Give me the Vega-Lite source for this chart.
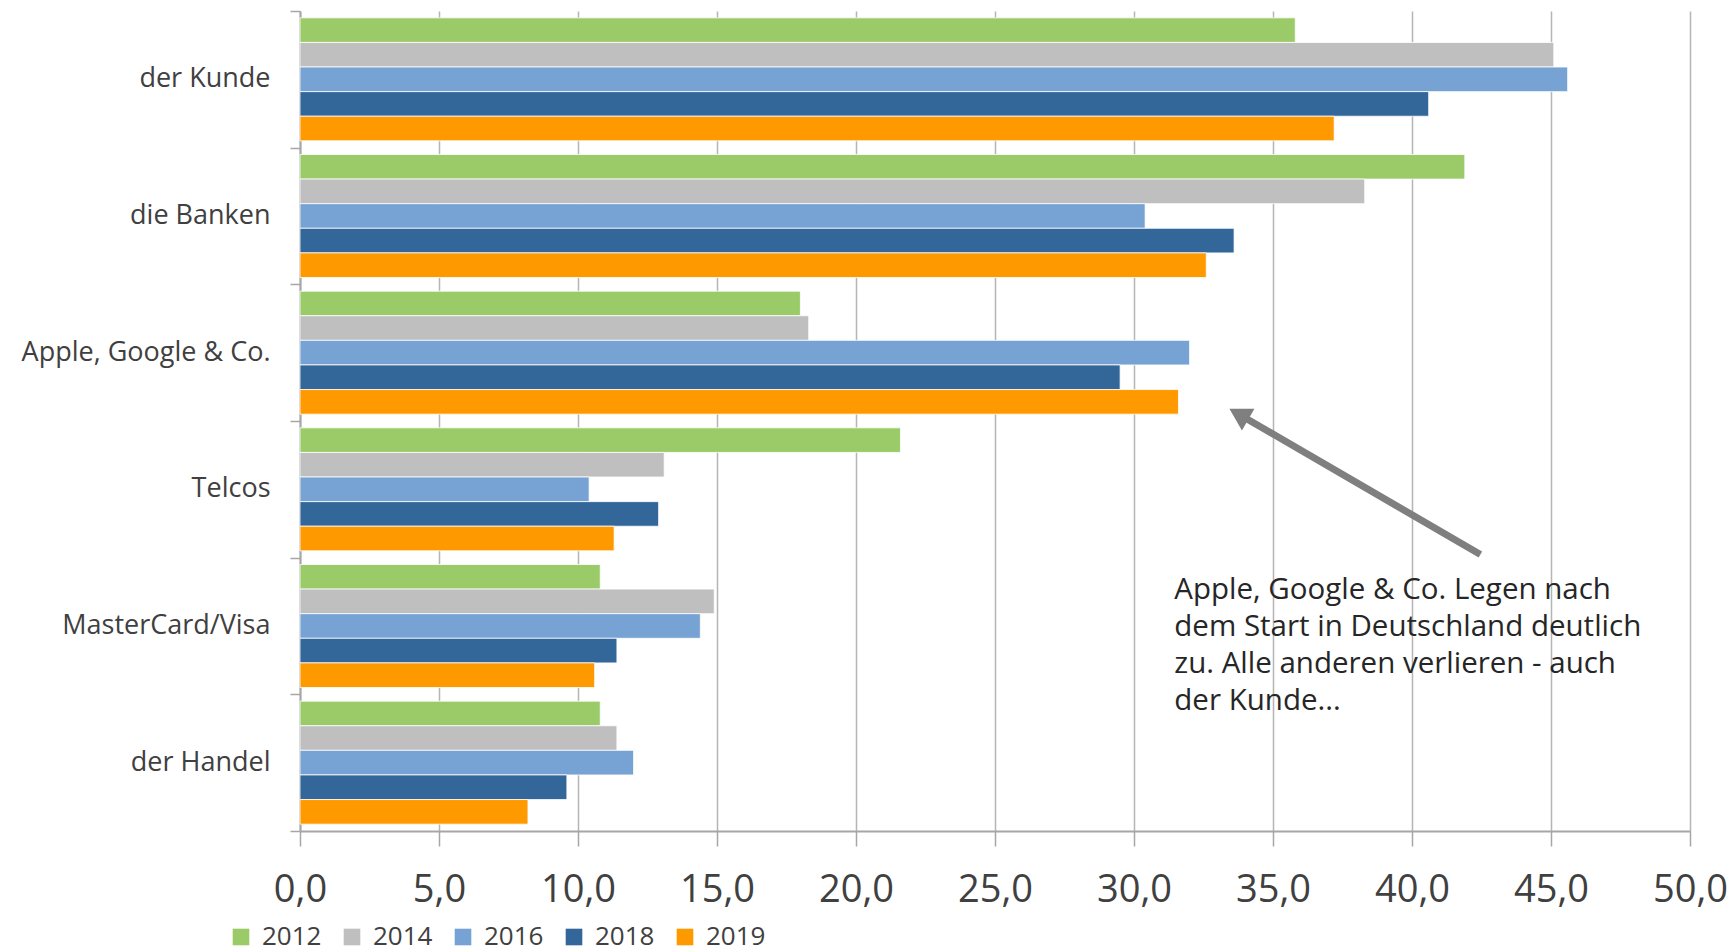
{
  "$schema": "https://vega.github.io/schema/vega-lite/v6.json",
  "width": 1390,
  "height": 820,
  "autosize": {"type": "none"},
  "padding": {"left": 300, "top": 11, "right": 42, "bottom": 121},
  "background": "white",
  "config": {
    "font": "Open Sans",
    "view": {"stroke": null},
    "axis": {"labelFont": "Open Sans", "labelColor": "#404040"},
    "legend": {"labelFont": "Open Sans"}
  },
  "datasets": {
    "bars": [
      {"cat": "der Kunde", "year": "2012", "value": 35.8},
      {"cat": "der Kunde", "year": "2014", "value": 45.1},
      {"cat": "der Kunde", "year": "2016", "value": 45.6},
      {"cat": "der Kunde", "year": "2018", "value": 40.6},
      {"cat": "der Kunde", "year": "2019", "value": 37.2},
      {"cat": "die Banken", "year": "2012", "value": 41.9},
      {"cat": "die Banken", "year": "2014", "value": 38.3},
      {"cat": "die Banken", "year": "2016", "value": 30.4},
      {"cat": "die Banken", "year": "2018", "value": 33.6},
      {"cat": "die Banken", "year": "2019", "value": 32.6},
      {"cat": "Apple, Google & Co.", "year": "2012", "value": 18.0},
      {"cat": "Apple, Google & Co.", "year": "2014", "value": 18.3},
      {"cat": "Apple, Google & Co.", "year": "2016", "value": 32.0},
      {"cat": "Apple, Google & Co.", "year": "2018", "value": 29.5},
      {"cat": "Apple, Google & Co.", "year": "2019", "value": 31.6},
      {"cat": "Telcos", "year": "2012", "value": 21.6},
      {"cat": "Telcos", "year": "2014", "value": 13.1},
      {"cat": "Telcos", "year": "2016", "value": 10.4},
      {"cat": "Telcos", "year": "2018", "value": 12.9},
      {"cat": "Telcos", "year": "2019", "value": 11.3},
      {"cat": "MasterCard/Visa", "year": "2012", "value": 10.8},
      {"cat": "MasterCard/Visa", "year": "2014", "value": 14.9},
      {"cat": "MasterCard/Visa", "year": "2016", "value": 14.4},
      {"cat": "MasterCard/Visa", "year": "2018", "value": 11.4},
      {"cat": "MasterCard/Visa", "year": "2019", "value": 10.6},
      {"cat": "der Handel", "year": "2012", "value": 10.8},
      {"cat": "der Handel", "year": "2014", "value": 11.4},
      {"cat": "der Handel", "year": "2016", "value": 12.0},
      {"cat": "der Handel", "year": "2018", "value": 9.6},
      {"cat": "der Handel", "year": "2019", "value": 8.2}
    ],
    "note": [
      {"x": 31.45, "pos": 1.765, "text": "Apple, Google & Co. Legen nach\ndem Start in Deutschland deutlich\nzu. Alle anderen verlieren - auch\nder Kunde..."}
    ],
    "arrow": [
      {"x": 42.46, "pos": 2.023, "part": "tail"},
      {"x": 33.77, "pos": 3.05, "part": "head"}
    ],
    "head": [
      {"x": 33.77, "pos": 3.05}
    ]
  },
  "layer": [
    {
      "data": {"name": "bars"},
      "mark": {"type": "bar", "stroke": "white", "strokeWidth": 0.8},
      "encoding": {
        "y": {
          "field": "cat",
          "type": "nominal",
          "sort": ["der Kunde", "die Banken", "Apple, Google & Co.", "Telcos", "MasterCard/Visa", "der Handel"],
          "scale": {"paddingInner": 0.1, "paddingOuter": 0.05},
          "axis": {
            "title": null,
            "orient": "left",
            "ticks": false,
            "domainColor": "#a6a6a6",
            "domainWidth": 2,
            "labelFontSize": 27,
            "labelPadding": 30,
            "labelLimit": 400,
            "grid": false
          }
        },
        "yOffset": {"field": "year", "type": "nominal", "scale": {"paddingInner": 0, "paddingOuter": 0}},
        "x": {
          "field": "value",
          "type": "quantitative",
          "scale": {"domain": [0, 50], "nice": false},
          "axis": {
            "title": null,
            "values": [0, 5, 10, 15, 20, 25, 30, 35, 40, 45, 50],
            "labelExpr": "replace(format(datum.value, '.1f'), '.', ',')",
            "labelFlush": false,
            "labelOverlap": false,
            "labelFontSize": 38,
            "labelPadding": 25,
            "labelColor": "#404040",
            "domainColor": "#a6a6a6",
            "domainWidth": 2,
            "tickColor": "#a6a6a6",
            "tickWidth": 1.5,
            "tickSize": 15,
            "grid": true,
            "gridColor": "#b5b5b5",
            "gridWidth": 1.5
          }
        },
        "color": {
          "field": "year",
          "type": "nominal",
          "scale": {
            "domain": ["2012", "2014", "2016", "2018", "2019"],
            "range": ["#9bcb69", "#bfbfbf", "#76a3d3", "#336699", "#ff9900"]
          },
          "legend": {
            "title": null,
            "orient": "none",
            "direction": "horizontal",
            "legendX": -72,
            "legendY": 913,
            "padding": 0,
            "symbolType": "square",
            "symbolSize": 276,
            "symbolStrokeWidth": 0,
            "labelFontSize": 26,
            "labelColor": "#404040",
            "labelOffset": 8,
            "columnPadding": 17
          }
        }
      }
    },
    {
      "data": {"name": "note"},
      "mark": {"type": "text", "align": "left", "baseline": "middle", "fontSize": 29.5, "lineHeight": 37, "lineBreak": "\n", "color": "#262626", "font": "Open Sans"},
      "encoding": {
        "x": {"field": "x", "type": "quantitative"},
        "y": {
          "field": "pos",
          "type": "quantitative",
          "scale": {"domain": [0, 6], "nice": false, "zero": false},
          "axis": {
            "orient": "left",
            "title": null,
            "values": [0, 1, 2, 3, 4, 5, 6],
            "labels": false,
            "domain": false,
            "grid": false,
            "ticks": true,
            "tickSize": 10,
            "tickColor": "#a6a6a6",
            "tickWidth": 1.5
          }
        },
        "text": {"field": "text"}
      }
    },
    {
      "data": {"name": "arrow"},
      "mark": {"type": "line", "color": "#7f7f7f", "strokeWidth": 7, "strokeCap": "butt"},
      "encoding": {
        "x": {"field": "x", "type": "quantitative"},
        "y": {"field": "pos", "type": "quantitative", "scale": {"domain": [0, 6], "nice": false, "zero": false}, "axis": null}
      }
    },
    {
      "data": {"name": "head"},
      "mark": {"type": "point", "shape": "triangle-up", "size": 625, "angle": 300, "filled": true, "color": "#7f7f7f", "opacity": 1},
      "encoding": {
        "x": {"field": "x", "type": "quantitative"},
        "y": {"field": "pos", "type": "quantitative", "scale": {"domain": [0, 6], "nice": false, "zero": false}, "axis": null}
      }
    }
  ],
  "resolve": {"scale": {"y": "independent"}, "axis": {"y": "independent"}}
}
